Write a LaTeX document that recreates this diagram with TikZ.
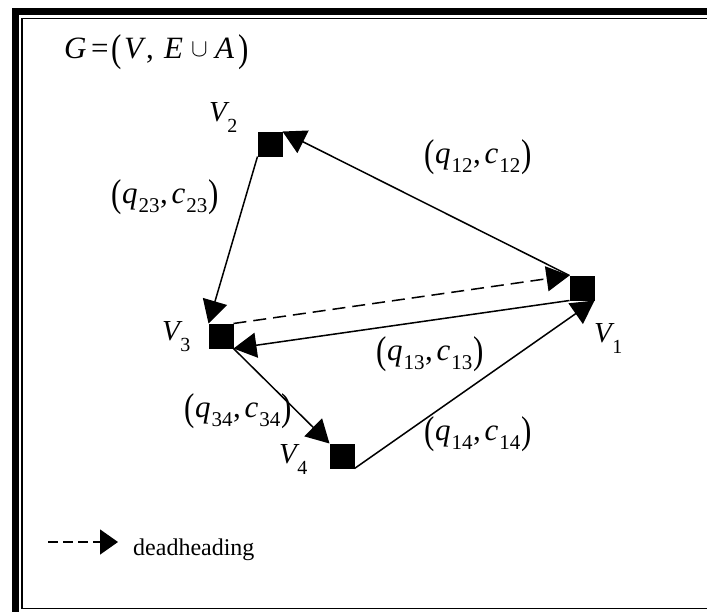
\documentclass[tikz,border=0pt]{standalone}
\usepackage{fontspec}
\setmainfont{Liberation Serif}
\usepackage{graphicx}
\usetikzlibrary{arrows.meta}
\newcommand{\lpar}{\raisebox{-0.1em}{\scalebox{1}[1.25]{(}}}
\newcommand{\rpar}{\raisebox{-0.1em}{\scalebox{1}[1.25]{)}}}
\newcommand{\subs}[1]{\raisebox{-0.3em}{\fontsize{21}{21}\selectfont #1}}
\newcommand{\qc}[1]{\lpar\kern0.02em\textit{q}\kern0.03em\subs{#1}\kern0.02em,\kern0.12em\textit{c}\kern0.03em\subs{#1}\kern0.03em\rpar}
\newcommand{\vv}[1]{\textit{V}\kern-0.08em\raisebox{-0.4em}{\fontsize{20}{20}\selectfont #1}}
\newcommand{\at}[2]{\makebox[0pt][l]{\hspace*{#1pt}#2}}
\begin{document}
\begin{tikzpicture}[x=1pt,y=-1pt,
  vtx/.style={fill=black,minimum size=25pt,inner sep=0pt,outer sep=0pt},
  edge/.style={line width=1.5pt,-{Triangle[length=23pt,width=25pt]}},
  lbl/.style={inner sep=0pt,anchor=base west,font=\fontsize{29}{31}\selectfont},
  elbl/.style={lbl,font=\fontsize{31}{33}\selectfont}]
\useasboundingbox (0,0) rectangle (707,611);
\clip (0,0) rectangle (707,611);
% frame
\draw[line width=7pt] (15.3,700) -- (15.3,11) -- (800,11);
\draw[line width=1.5pt] (800,608.5) -- (22,608.5) -- (22,18.5) -- (800,18.5);
% title
\node[lbl,font=\fontsize{31}{33}\selectfont] (title) at (64,58)
 {\at{0}{\textit{G}}\at{27}{=}\at{47}{\lpar}\at{60}{\textit{V}}\at{82}{,}\at{100}{\textit{E}}\at{127}{\raisebox{0.05em}{$\cup$}}\at{151}{\textit{A}}\at{174}{\rpar}\hspace*{190pt}};
% vertices
\node[vtx] (v1) at (582,288) {};
\node[vtx] (v2) at (270,144) {};
\node[vtx] (v3) at (221,336) {};
\node[vtx] (v4) at (342,456) {};
% vertex labels
\node[lbl] (l1) at (594,342) {\vv{1}};
\node[lbl] (l2) at (209,121) {\vv{2}};
\node[lbl] (l3) at (162,340) {\vv{3}};
\node[lbl] (l4) at (279,463) {\vv{4}};
% edges
\draw[edge] (v1.north west) -- (v2.north east);
\draw[edge] (v2.south west) -- (v3.north west);
\draw[edge] (v3.south east) -- (v4.north west);
\draw[edge] (v4.south east) -- (v1.south east);
\draw[edge] (v1.south west) -- (v3.south east);
\draw[edge,dash pattern=on 13pt off 7pt] (v3.north east) -- (v1.north west);
% edge labels
\node[elbl] (e12) at (424,163) {\qc{12}};
\node[elbl] (e23) at (111,203) {\qc{23}};
\node[elbl] (e13) at (376,360) {\qc{13}};
\node[elbl] (e34) at (184,417) {\qc{34}};
\node[elbl] (e14) at (424,440) {\qc{14}};
% legend
\coordinate (ls) at (48,542);
\coordinate (le) at (118,542);
\draw[line width=1.5pt,dash pattern=on 10pt off 5pt,-{Triangle[length=18pt,width=25pt]}] (ls) -- (le);
\node[lbl,font=\fontsize{24}{26}\selectfont] (leg) at (133,555) {deadheading};
\end{tikzpicture}
\end{document}
